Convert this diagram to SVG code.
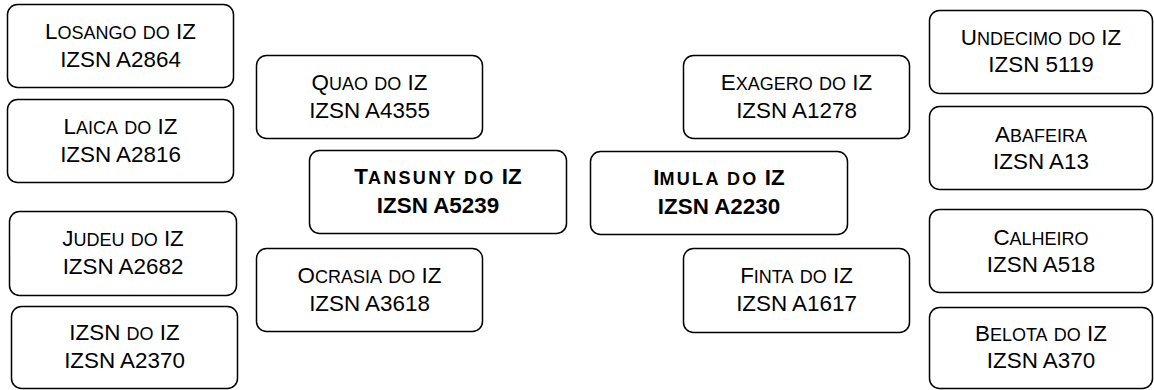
<svg xmlns="http://www.w3.org/2000/svg" width="1154" height="390" viewBox="0 0 1154 390">
<style>
rect{fill:#fff;stroke:#000;stroke-width:1.5}
text{font-family:"Liberation Sans",Arial,sans-serif;font-size:22.4px;text-anchor:middle;fill:#000;font-variant:small-caps}
.b{font-weight:bold}
.s{font-size:25.6px}
.b .s{letter-spacing:2.3px}
</style>
<rect x="0" y="0" width="1154" height="390" style="stroke:none"/>
<g id="connectors"/>
<g id="losango"><rect x="7.5" y="4.5" width="226" height="83" rx="10"/><text x="120.5" y="38.5">L<tspan class="s">osango</tspan> <tspan class="s">do</tspan> IZ</text><text x="120.5" y="66.5">IZSN A2864</text></g>
<g id="laica"><rect x="7.5" y="99.5" width="226" height="83" rx="10"/><text x="120.5" y="134">L<tspan class="s">aica</tspan> <tspan class="s">do</tspan> IZ</text><text x="120.5" y="161.5">IZSN A2816</text></g>
<g id="judeu"><rect x="9.5" y="211.5" width="227" height="84" rx="10"/><text x="123" y="246">J<tspan class="s">udeu</tspan> <tspan class="s">do</tspan> IZ</text><text x="123" y="274">IZSN A2682</text></g>
<g id="izsn"><rect x="11.5" y="306.5" width="226" height="82" rx="10"/><text x="124.5" y="340">IZSN <tspan class="s">do</tspan> IZ</text><text x="124.5" y="368">IZSN A2370</text></g>
<g id="quao"><rect x="256.5" y="55.5" width="226" height="83" rx="10"/><text x="369.5" y="90">Q<tspan class="s">uao</tspan> <tspan class="s">do</tspan> IZ</text><text x="369.5" y="117.5">IZSN A4355</text></g>
<g id="ocrasia"><rect x="256.5" y="248.5" width="226" height="83" rx="10"/><text x="369.5" y="283">O<tspan class="s">crasia</tspan> <tspan class="s">do</tspan> IZ</text><text x="369.5" y="310.5">IZSN A3618</text></g>
<g id="tansuny"><rect x="309.5" y="150.5" width="257" height="83" rx="10"/><text class="b" x="438" y="183.5">T<tspan class="s">ansuny</tspan> <tspan class="s">do</tspan> IZ</text><text class="b" x="438" y="213">IZSN A5239</text></g>
<g id="imula"><rect x="590.5" y="151.5" width="257" height="83" rx="10"/><text class="b" x="719" y="184.5">I<tspan class="s">mula</tspan> <tspan class="s">do</tspan> IZ</text><text class="b" x="719" y="214">IZSN A2230</text></g>
<g id="exagero"><rect x="683.5" y="55.5" width="226" height="83" rx="10"/><text x="796.5" y="90">E<tspan class="s">xagero</tspan> <tspan class="s">do</tspan> IZ</text><text x="796.5" y="117.5">IZSN A1278</text></g>
<g id="finta"><rect x="683.5" y="248.5" width="226" height="84" rx="10"/><text x="796.5" y="283">F<tspan class="s">inta</tspan> <tspan class="s">do</tspan> IZ</text><text x="796.5" y="310.5">IZSN A1617</text></g>
<g id="undecimo"><rect x="929.5" y="10.5" width="223" height="83" rx="10"/><text x="1041" y="45">U<tspan class="s">ndecimo</tspan> <tspan class="s">do</tspan> IZ</text><text x="1041" y="72">IZSN 5119</text></g>
<g id="abafeira"><rect x="929.5" y="106.5" width="223" height="83" rx="10"/><text x="1041" y="141.5">A<tspan class="s">bafeira</tspan></text><text x="1041" y="168.5">IZSN A13</text></g>
<g id="calheiro"><rect x="929.5" y="209.5" width="223" height="83" rx="10"/><text x="1041" y="244.5">C<tspan class="s">alheiro</tspan></text><text x="1041" y="271.5">IZSN A518</text></g>
<g id="belota"><rect x="929.5" y="307.5" width="223" height="81" rx="10"/><text x="1041" y="341">B<tspan class="s">elota</tspan> <tspan class="s">do</tspan> IZ</text><text x="1041" y="368">IZSN A370</text></g>
</svg>
